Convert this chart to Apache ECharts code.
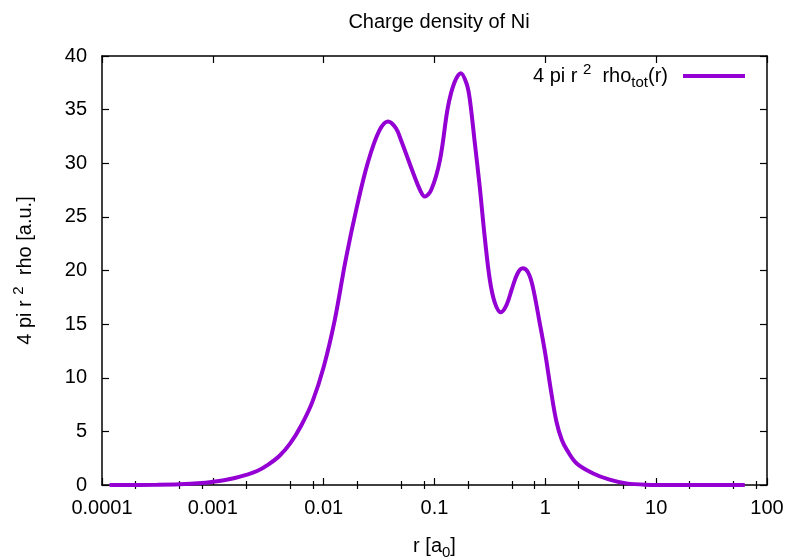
<!DOCTYPE html>
<html>
<head>
<meta charset="utf-8">
<script src="https://cdn.jsdelivr.net/npm/echarts@6/dist/echarts.min.js"></script>
<style>
  html, body { margin: 0; padding: 0; background: #fff; }
  #chart { width: 790px; height: 560px; }
</style>
</head>
<body>
<div id="chart"></div>
<script>
// radius r [a0] and 4 pi r^2 rho_tot(r)
const rValues = [
  0.000117, 0.000316, 0.0005, 0.00079, 0.001, 0.00126, 0.00158, 0.002, 0.00251, 0.00316,
  0.00398, 0.00501, 0.00631, 0.00794, 0.01, 0.0126, 0.0158, 0.02, 0.0251, 0.0316,
  0.038, 0.0447, 0.0501, 0.0631, 0.0741, 0.0817, 0.0933, 0.112, 0.132, 0.151,
  0.173, 0.195, 0.208, 0.231, 0.256, 0.284, 0.316, 0.35, 0.396, 0.447,
  0.5, 0.56, 0.625, 0.7, 0.77, 0.89, 1.0, 1.12, 1.26, 1.41,
  1.58, 1.92, 2.67, 3.8, 5.4, 8, 15, 63
];
const rhoValues = [
  0, 0.02, 0.06, 0.18, 0.3, 0.45, 0.65, 0.95, 1.3, 1.9,
  2.7, 3.9, 5.6, 7.8, 11.0, 15.4, 21.0, 26.0, 30.1, 33.0,
  33.9, 33.3, 32.1, 29.3, 27.5, 26.9, 27.5, 30.3, 35.2, 37.5,
  38.4, 37.4, 36.0, 31.9, 27.8, 23.1, 19.1, 17.0, 16.1, 16.8,
  18.3, 19.7, 20.2, 19.8, 18.5, 15.1, 12.2, 8.9, 5.9, 4.2,
  3.2, 2.0, 1.1, 0.5, 0.15, 0.03, 0, 0
];

const xMajorTicks = [0.0001, 0.001, 0.01, 0.1, 1, 10, 100];
const xTickLabels = ['0.0001', '0.001', '0.01', '0.1', '1', '10', '100'];
const xMinorTicks = [
  0.0002, 0.0005, 0.0008, 0.002, 0.005, 0.008, 0.02, 0.05, 0.08,
  0.2, 0.5, 0.8, 2, 5, 8, 20, 50, 80
];

const FONT = '"Liberation Sans", Arial, sans-serif';
const FS = 20;
const black = '#000';

const chart = echarts.init(document.getElementById('chart'), null, { renderer: 'canvas' });

function majorAxis(position, showLabels) {
  return {
    type: 'log',
    logBase: 10,
    min: 0.0001,
    max: 100,
    position: position,
    axisLine: { show: true, onZero: false, lineStyle: { color: black, width: 1.5 } },
    axisTick: { show: true, inside: true, length: 7, customValues: xMajorTicks, lineStyle: { color: black, width: 1.2 } },
    axisLabel: {
      show: showLabels,
      customValues: xMajorTicks,
      margin: 13,
      color: black,
      fontFamily: FONT,
      fontSize: FS,
      formatter: function (v) {
        const i = xMajorTicks.findIndex(t => Math.abs(Math.log10(t) - Math.log10(v)) < 1e-6);
        return i >= 0 ? xTickLabels[i] : '';
      }
    },
    splitLine: { show: false },
    minorTick: { show: false }
  };
}

function minorAxis(position) {
  return {
    type: 'log',
    logBase: 10,
    min: 0.0001,
    max: 100,
    position: position,
    axisLine: { show: false },
    axisTick: { show: true, inside: true, length: 4, customValues: xMinorTicks, lineStyle: { color: black, width: 1.2 } },
    axisLabel: { show: false },
    splitLine: { show: false }
  };
}

const xBottom = majorAxis('bottom', true);
xBottom.name = 'r [a{sub|0}]';
xBottom.nameLocation = 'middle';
xBottom.nameGap = 47;
xBottom.nameTextStyle = {
  color: black, fontFamily: FONT, fontSize: FS, lineHeight: 28,
  rich: { sub: { fontFamily: FONT, fontSize: 15, lineHeight: 15, verticalAlign: 'bottom', color: black } }
};

const option = {
  animation: false,
  backgroundColor: '#fff',
  title: {
    text: 'Charge density of Ni',
    left: 434,
    top: 7,
    textAlign: 'center',
    textStyle: { color: black, fontFamily: FONT, fontSize: FS, fontWeight: 'normal' }
  },
  grid: { left: 102, right: 23, top: 56, bottom: 75, containLabel: false, outerBoundsMode: 'none' },
  legend: {
    data: ['rho'],
    right: 40,
    top: 57,
    icon: 'rect',
    itemWidth: 62,
    itemHeight: 4,
    align: 'right',
    formatter: function () { return '4 pi r {sup|2}  rho{sub|tot}(r)'; },
    textStyle: {
      color: black, fontFamily: FONT, fontSize: FS, lineHeight: 28, padding: [0, 10, 0, 0],
      rich: {
        sup: { fontFamily: FONT, fontSize: 15, lineHeight: 15, verticalAlign: 'top', color: black },
        sub: { fontFamily: FONT, fontSize: 15, lineHeight: 15, verticalAlign: 'bottom', color: black }
      }
    }
  },
  xAxis: [xBottom, majorAxis('top', false), minorAxis('bottom'), minorAxis('top')],
  yAxis: [
    {
      type: 'value',
      min: 0,
      max: 40,
      interval: 5,
      position: 'left',
      name: '4 pi r {sup|2}  rho [a.u.]',
      nameLocation: 'middle',
      nameRotate: 90,
      nameGap: 63,
      nameTextStyle: {
        color: black, fontFamily: FONT, fontSize: FS, lineHeight: 28,
        rich: { sup: { fontFamily: FONT, fontSize: 15, lineHeight: 15, verticalAlign: 'top', color: black } }
      },
      axisLine: { show: true, onZero: false, lineStyle: { color: black, width: 1.5 } },
      axisTick: { show: true, inside: true, length: 7, lineStyle: { color: black, width: 1.2 } },
      axisLabel: { color: black, fontFamily: FONT, fontSize: FS, margin: 15 },
      splitLine: { show: false }
    },
    {
      type: 'value',
      min: 0,
      max: 40,
      interval: 5,
      position: 'right',
      axisLine: { show: true, onZero: false, lineStyle: { color: black, width: 1.5 } },
      axisTick: { show: true, inside: true, length: 7, lineStyle: { color: black, width: 1.2 } },
      axisLabel: { show: false },
      splitLine: { show: false }
    }
  ],
  series: [
    {
      name: 'rho',
      type: 'line',
      xAxisIndex: 0,
      yAxisIndex: 0,
      data: rValues.map((r, i) => [r, rhoValues[i]]),
      showSymbol: false,
      symbol: 'none',
      smooth: 0.35,
      clip: true,
      color: '#9400d3',
      lineStyle: { color: '#9400d3', width: 4 }
    }
  ]
};

chart.setOption(option);
</script>
</body>
</html>
